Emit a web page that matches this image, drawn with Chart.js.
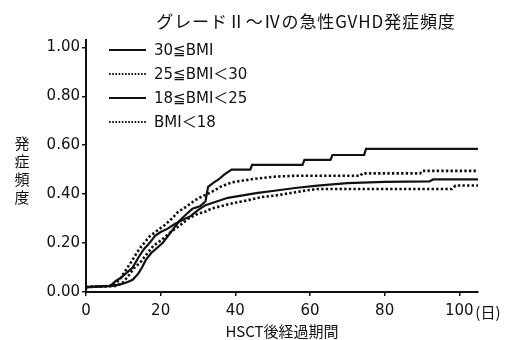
<!DOCTYPE html>
<html>
<head>
<meta charset="utf-8">
<script src="https://cdn.jsdelivr.net/npm/chart.js@4.4.0/dist/chart.umd.min.js"></script>
<style>
  html, body { margin: 0; padding: 0; background: #fff; }
  #wrap { width: 508px; height: 340px; }
</style>
</head>
<body>
<div id="wrap"><canvas id="km"></canvas></div>
<script>
const chartTitle = "グレードⅡ～Ⅳの急性GVHD発症頻度";
const yTitle = ["発", "症", "頻", "度"];
const xTitle = "HSCT後経過期間";
const xTickValues = [0, 20, 40, 60, 80, 100];
const yTickValues = [0, 0.2, 0.4, 0.6, 0.8, 1.0];

const labels = ["30≦BMI", "25≦BMI＜30", "18≦BMI＜25", "BMI＜18"];

// 30≦BMI
const days30 = [0, 7, 9, 11, 12.5, 14, 15, 16, 17.5, 19, 20.5, 22, 23.5, 25, 27, 28.5, 30.5, 32, 32.7, 34, 35.5, 37, 39, 44, 44.5, 58, 58.5, 65.5, 66, 74.5, 75, 105];
const vals30 = [0.02, 0.025, 0.03, 0.04, 0.05, 0.075, 0.10, 0.13, 0.16, 0.18, 0.20, 0.23, 0.26, 0.29, 0.32, 0.34, 0.35, 0.37, 0.43, 0.445, 0.46, 0.48, 0.50, 0.50, 0.52, 0.52, 0.54, 0.54, 0.56, 0.56, 0.585, 0.585];

// 25≦BMI＜30
const days25 = [0, 7, 9, 10.9, 12, 13.6, 15, 17.1, 19, 21.2, 23, 24.7, 27, 29.2, 31, 33.6, 36, 39, 44.4, 50, 56, 73.5, 74, 89.5, 90, 105];
const vals25 = [0.02, 0.025, 0.05, 0.095, 0.12, 0.16, 0.19, 0.228, 0.25, 0.275, 0.30, 0.328, 0.35, 0.375, 0.39, 0.408, 0.43, 0.448, 0.461, 0.471, 0.475, 0.475, 0.485, 0.485, 0.495, 0.495];

// 18≦BMI＜25
const days18 = [0, 6.5, 8, 9.5, 11, 12.5, 14, 15.5, 17, 18.5, 20, 22, 24, 26, 28, 30, 32, 35, 38, 42, 46, 51, 56, 62, 70, 80, 92, 93, 105];
const vals18 = [0.02, 0.025, 0.045, 0.06, 0.08, 0.10, 0.14, 0.175, 0.20, 0.23, 0.245, 0.26, 0.28, 0.295, 0.31, 0.335, 0.355, 0.37, 0.385, 0.395, 0.405, 0.415, 0.425, 0.435, 0.445, 0.45, 0.452, 0.46, 0.46];

// BMI＜18
const daysLow = [0, 8, 10, 11.8, 13, 14.5, 16, 18, 20, 22.9, 25, 27.4, 30, 31.9, 33.6, 37.2, 40, 43.4, 47, 51, 55, 59, 62, 98, 99, 105];
const valsLow = [0.02, 0.025, 0.04, 0.075, 0.10, 0.12, 0.15, 0.188, 0.21, 0.248, 0.27, 0.30, 0.32, 0.328, 0.341, 0.355, 0.365, 0.375, 0.388, 0.395, 0.405, 0.415, 0.421, 0.421, 0.435, 0.435];

const toPoints = (days, vals) => days.map((d, i) => ({ x: d, y: vals[i] }));

const numFont = "'DejaVu Sans', sans-serif";
const jpFont = "'Noto Sans CJK JP', sans-serif";

const makeSet = (label, days, vals, dotted) => ({
    label: label,
    data: toPoints(days, vals),
    borderColor: "#111",
    borderWidth: dotted ? 2.6 : 2.2,
    borderDash: dotted ? [2.4, 2.2] : [],
    tension: 0,
    pointRadius: 0,
    fill: false,
});

// title, y title, "(日)" and the legend are drawn by hand
const extras = {
    id: "extras",
    afterDraw(chart) {
        const ctx = chart.ctx;
        const xs = chart.scales.x;
        ctx.save();
        ctx.fillStyle = "#111";
        ctx.textBaseline = "middle";

        ctx.font = "17px " + jpFont;
        ctx.textAlign = "center";
        ctx.letterSpacing = "0.9px";
        ctx.fillText(chartTitle, 306, 22);
        ctx.letterSpacing = "0px";

        ctx.font = "15px " + jpFont;
        yTitle.forEach((ch, i) => ctx.fillText(ch, 22, 143 + i * 18));

        ctx.font = "15px " + jpFont;
        ctx.textAlign = "left";
        ctx.fillText("(日)", xs.getPixelForValue(100) + 16, 312);

        chart.data.datasets.forEach((ds, i) => {
            const y = 50 + i * 24;
            ctx.beginPath();
            ctx.strokeStyle = "#111";
            const dotted = ds.borderDash.length > 0;
            ctx.lineWidth = dotted ? 1.8 : 2;
            ctx.setLineDash(dotted ? [1.6, 1.6] : []);
            ctx.moveTo(109, y);
            ctx.lineTo(146, y);
            ctx.stroke();
            ctx.setLineDash([]);
            ctx.font = "15px " + numFont + ", 'Noto Sans CJK JP'";
            ctx.fillText(ds.label, 154, y + 1);
        });
        ctx.restore();
    },
};

new Chart(document.getElementById("km"), {
    type: "line",
    data: {
        datasets: [
            makeSet(labels[0], days30, vals30, false),
            makeSet(labels[1], days25, vals25, true),
            makeSet(labels[2], days18, vals18, false),
            makeSet(labels[3], daysLow, valsLow, true),
        ],
    },
    options: {
        responsive: true,
        maintainAspectRatio: false,
        animation: false,
        layout: { padding: { top: 40, right: 30, left: 0, bottom: 0 } },
        plugins: {
            legend: { display: false },
            tooltip: { enabled: false },
            title: { display: false },
        },
        scales: {
            x: {
                type: "linear",
                min: 0,
                max: 105,
                afterBuildTicks: (s) => { s.ticks = xTickValues.map(v => ({ value: v })); },
                afterFit: (s) => { s.height = 48; },
                grid: { drawOnChartArea: false, drawTicks: true, tickLength: 4, color: "#111", lineWidth: 1.5 },
                border: { display: true, color: "#111", width: 2 },
                ticks: { color: "#111", font: { size: 15, family: numFont }, padding: 6, maxRotation: 0 },
                title: { display: true, text: xTitle, color: "#111", font: { size: 15, family: jpFont }, padding: { top: 0, bottom: 0 } },
            },
            y: {
                type: "linear",
                min: 0,
                max: 1.03,
                afterBuildTicks: (s) => { s.ticks = yTickValues.map(v => ({ value: v })); },
                afterFit: (s) => { s.width = 86; },
                grid: { drawOnChartArea: false, drawTicks: true, tickLength: 4, color: "#111", lineWidth: 1.5 },
                border: { display: true, color: "#111", width: 2 },
                ticks: { color: "#111", font: { size: 15, family: numFont }, padding: 2, callback: (v) => v.toFixed(2) },
            },
        },
    },
    plugins: [extras],
});
</script>
</body>
</html>
